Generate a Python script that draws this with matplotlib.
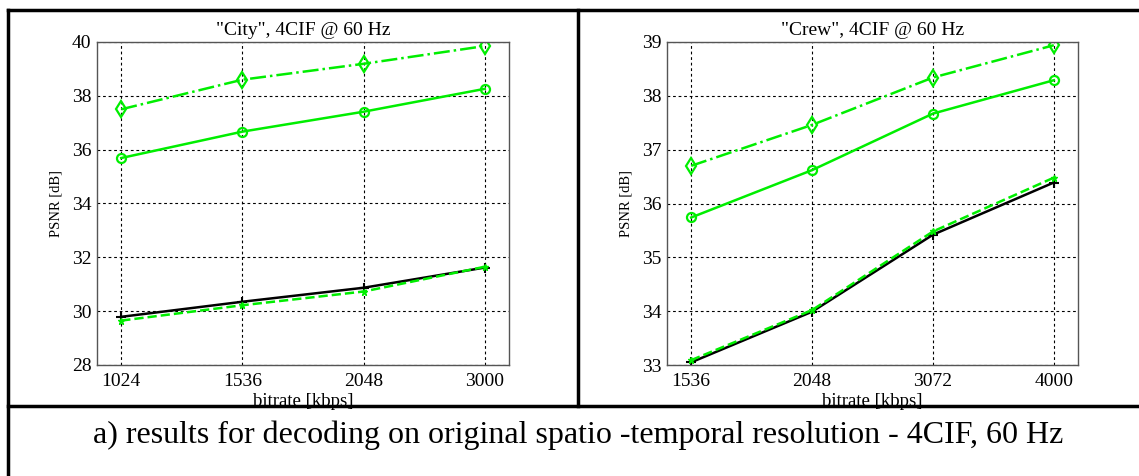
import matplotlib
matplotlib.use("Agg")
import matplotlib.pyplot as plt
from matplotlib.lines import Line2D

plt.rcParams['font.family'] = ['Liberation Serif', 'DejaVu Serif']

# ---- data ----
city_rates = ["1024", "1536", "2048", "3000"]
city_diamond = [37.50, 38.60, 39.19, 39.85]
city_circle = [35.69, 36.67, 37.41, 38.26]
city_black = [29.79, 30.35, 30.87, 31.62]
city_star = [29.65, 30.22, 30.73, 31.65]
city_yticks = [28, 30, 32, 34, 36, 38, 40]

crew_rates = ["1536", "2048", "3072", "4000"]
crew_diamond = [36.70, 37.46, 38.34, 38.94]
crew_circle = [35.74, 36.62, 37.67, 38.29]
crew_black = [33.05, 33.99, 35.42, 36.39]
crew_star = [33.09, 34.02, 35.48, 36.48]
crew_yticks = [33, 34, 35, 36, 37, 38, 39]

titles = ['"City", 4CIF @ 60 Hz', '"Crew", 4CIF @ 60 Hz']
xlabel = "bitrate [kbps]"
ylabel = "PSNR [dB]"
caption = "a) results for decoding on original spatio -temporal resolution - 4CIF, 60 Hz"

W, H = 1139, 476
fig = plt.figure(figsize=(W / 100, H / 100), dpi=100)

GREEN = "#00ee00"


def px_axes(x0, x1, ytop, ybot):
    return fig.add_axes([x0 / W, 1 - ybot / H, (x1 - x0) / W, (ybot - ytop) / H])


def draw(ax, rates, diamond, circle, black, star, yticks, title):
    x = list(range(1, len(rates) + 1))
    ax.plot(x, diamond, color=GREEN, ls='-.', lw=1.8, marker='d', ms=8,
            mfc='none', mec=GREEN, mew=1.6)
    ax.plot(x, circle, color=GREEN, ls='-', lw=1.8, marker='o', ms=6.5,
            mfc='none', mec=GREEN, mew=1.6)
    ax.plot(x, black, color='black', ls='-', lw=1.8, marker='+', ms=7, mew=1.5)
    ax.plot(x, star, color=GREEN, ls='--', lw=1.8, marker='*', ms=5,
            mfc=GREEN, mec=GREEN)
    ax.set_xlim(0.8, len(rates) + 0.2)
    ax.set_ylim(yticks[0], yticks[-1])
    ax.set_xticks(x)
    ax.set_xticklabels(rates)
    ax.set_yticks(yticks)
    ax.grid(True, color='black', ls=(0, (2.5, 2.5)), lw=0.8)
    ax.tick_params(axis='x', length=0, labelsize=14, pad=6)
    ax.tick_params(axis='y', length=0, labelsize=14, pad=4)
    for s in ax.spines.values():
        s.set_color('#555555')
        s.set_linewidth(1.0)
    ax.set_title(title, fontsize=14, pad=5)
    ax.set_xlabel(xlabel, fontsize=13.5, labelpad=2)
    ax.set_ylabel(ylabel, fontsize=10.5, labelpad=7)


ax1 = px_axes(97, 509, 42, 365)
draw(ax1, city_rates, city_diamond, city_circle, city_black, city_star,
     city_yticks, titles[0])
ax2 = px_axes(667, 1078, 42, 365)
draw(ax2, crew_rates, crew_diamond, crew_circle, crew_black, crew_star,
     crew_yticks, titles[1])


def pline(xs, ys, lw=2.5):
    fig.add_artist(Line2D([x / W for x in xs], [1 - y / H for y in ys],
                          color='black', lw=lw, transform=fig.transFigure,
                          zorder=10))


pline([8, W], [10, 10])
pline([8, 8], [10, H])
pline([578, 578], [10, 406])
pline([8, W], [406, 406])

fig.text(578 / W, 1 - 435 / H, caption, fontsize=23, ha='center', va='center')

fig.savefig("out.png", dpi=100)
